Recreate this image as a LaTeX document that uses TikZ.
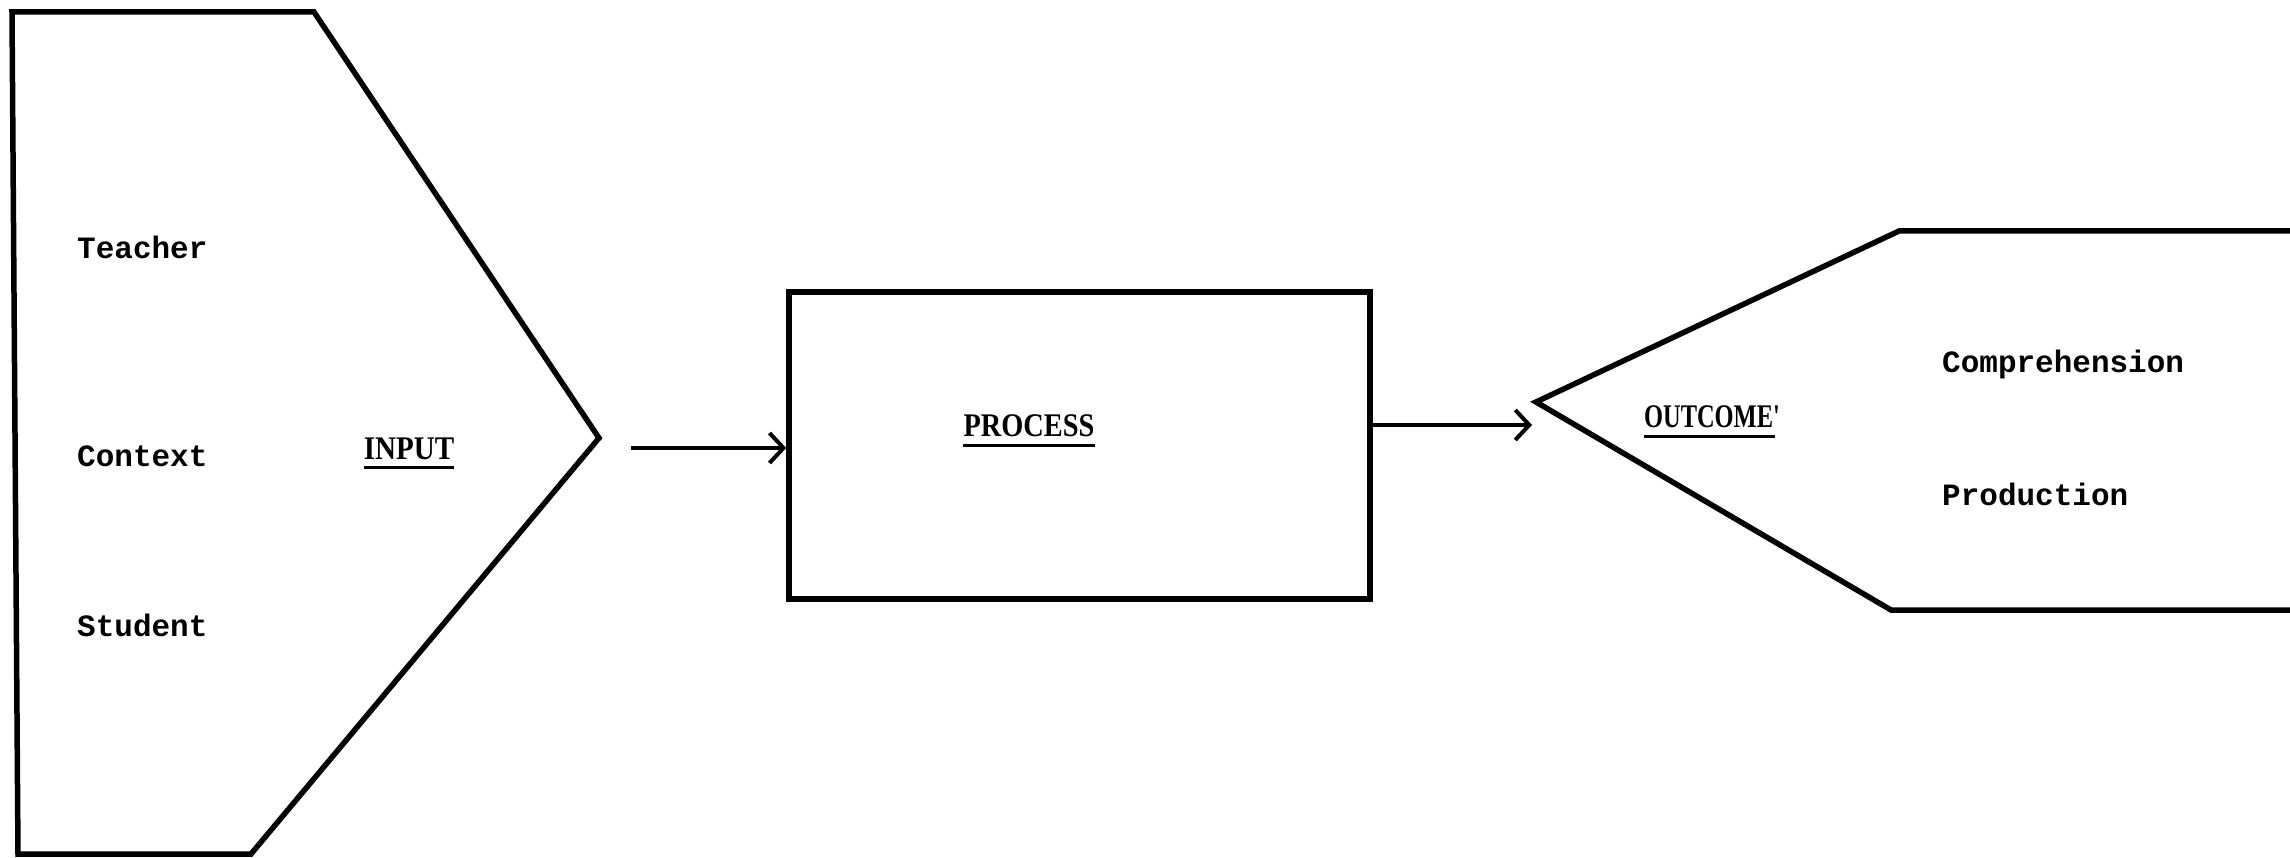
\documentclass[tikz,border=0pt]{standalone}
\usepackage{fontspec}
\setmainfont{Liberation Serif}
\newfontfamily\typew{Liberation Mono}
\usetikzlibrary{arrows.meta}
\tikzset{
  shapeline/.style={line width=5.5pt, line join=miter},
  item/.style={font=\typew\bfseries\fontsize{31}{31}\selectfont, anchor=west, inner sep=0pt},
  heading/.style={font=\bfseries\fontsize{33}{33}\selectfont, inner sep=0pt},
  uline/.style={line width=3pt},
  flow/.style={line width=4.5pt, -{Straight Barb[length=14pt,width=30pt,line width=4pt]}}
}
\begin{document}
\begin{tikzpicture}[x=1pt,y=-1pt]
\useasboundingbox (0,0) rectangle (2290,858);
% INPUT shape
\coordinate (iTL) at (12,12);
\coordinate (iTR) at (314,12);
\coordinate (iTip) at (599,438);
\coordinate (iBR) at (251,854);
\coordinate (iBL) at (18,854);
\draw[shapeline] (iTL) -- (iTR) -- (iTip) -- (iBR) -- (iBL) -- cycle;
\node[item] (teacher) at (77,247) {Teacher};
\node[item] (context) at (77,456) {Context};
\node[item] (student) at (77,625) {Student};
\node[heading, xscale=0.88] (input) at (409,449) {INPUT};
\draw[uline] ([yshift=-7pt]input.south west) -- ([yshift=-7pt]input.south east);
% PROCESS box
\node[draw, line width=5.5pt, minimum width=581pt, minimum height=307pt, inner sep=0pt] (proc) at (1079.5,445.5) {};
\node[heading, xscale=0.86] (process) at (1029,426) {PROCESS};
\draw[uline] ([yshift=-8pt]process.south west) -- ([yshift=-8pt]process.south east);
% OUTCOME shape
\coordinate (oTR) at (2296,231);
\coordinate (oTL) at (1899,231);
\coordinate (oTip) at (1536,402);
\coordinate (oBL) at (1891,610);
\coordinate (oBR) at (2296,610);
\draw[shapeline] (oTR) -- (oTL) -- (oTip) -- (oBL) -- (oBR);
\node[heading, xscale=0.74] (outcome) at (1712,417) {OUTCOME\textquotesingle};
\draw[uline] ([yshift=-8pt]outcome.south west) -- ([yshift=-8pt,xshift=-5pt]outcome.south east);
\node[item] (compr) at (1942,364) {Comprehension};
\node[item] (prod) at (1942,494) {Production};
% connectors
\coordinate (a1s) at (631,448);
\draw[flow] (a1s) -- (a1s -| proc.west);
\coordinate (a2e) at (1532,425);
\draw[flow] (proc.east |- a2e) -- (a2e);
\end{tikzpicture}
\end{document}
